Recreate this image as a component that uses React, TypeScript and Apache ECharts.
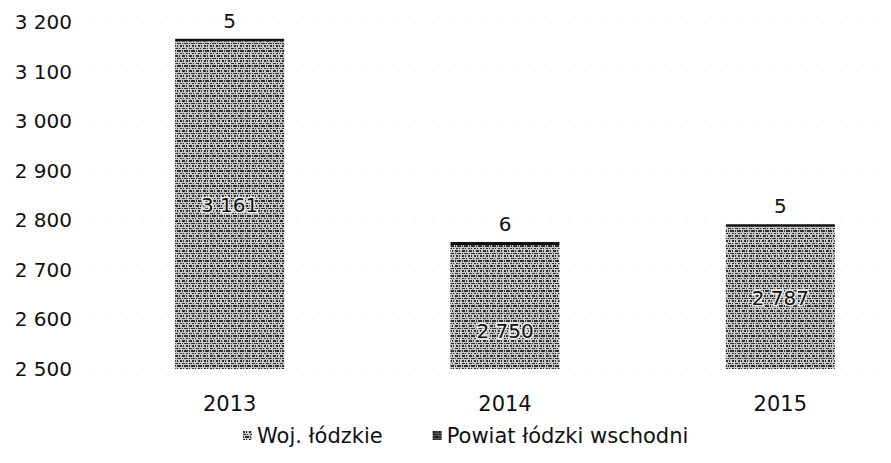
import React, { useEffect, useRef } from "react";
import * as echarts from "echarts";

const categories = ["2013", "2014", "2015"];
const wojValues = [3161, 2750, 2787];
const powiatValues = [5, 6, 5];
const yTicks = [2500, 2600, 2700, 2800, 2900, 3000, 3100, 3200];
const seriesNames = ["Woj. łódzkie", "Powiat łódzki wschodni"];

const FONT = "'DejaVu Sans', Verdana, sans-serif";
const fmt = (v: number) => String(v).replace(/\B(?=(\d{3})+(?!\d))/g, " ");

const decal = {
  symbol: "rect",
  symbolSize: 1,
  color: "rgba(10,10,10,0.8)",
  dashArrayX: [[3, 1, 1, 2], [1, 1, 4, 1], [2, 1, 1, 2]],
  dashArrayY: [2, 1, 1, 1],
  rotation: 0,
};

export default function App() {
  const ref = useRef<HTMLDivElement>(null);
  useEffect(() => {
    document.body.style.margin = "0";
    const chart = echarts.init(ref.current!, null, { renderer: "svg" });
    const labelOffsets: Record<number, number[]> = { 1: [0, 24] };
    chart.setOption({
      animation: false,
      backgroundColor: "#ffffff",
      textStyle: { fontFamily: FONT },
      grid: { left: 92, top: 22, bottom: 94, right: 0 },
      legend: {
        data: [
          { name: seriesNames[0], icon: "rect" },
          { name: seriesNames[1], icon: "rect", itemStyle: { color: "#555555", decal } },
        ],
        bottom: 12,
        left: 238,
        itemWidth: 9,
        itemHeight: 9,
        itemGap: 50,
        textStyle: { fontSize: 21, color: "#111", fontFamily: FONT },
      },
      xAxis: {
        type: "category",
        data: categories,
        axisLine: { show: false },
        axisTick: { show: false },
        axisLabel: { fontSize: 21, color: "#111", margin: 24, fontFamily: FONT },
      },
      yAxis: {
        type: "value",
        min: yTicks[0],
        max: yTicks[yTicks.length - 1],
        interval: 100,
        axisLine: { show: false },
        axisTick: { show: false },
        splitLine: { show: true, lineStyle: { color: "#e0e0e0", type: [1, 16], width: 1 } },
        axisLabel: {
          fontSize: 20,
          color: "#111",
          margin: 20,
          align: "right",
          fontFamily: FONT,
          formatter: (v: number) => fmt(v),
        },
      },
      series: [
        {
          name: seriesNames[0],
          type: "bar",
          stack: "total",
          barWidth: 109,
          itemStyle: { color: "#c8c8c8", decal },
          label: {
            show: true,
            position: "inside",
            fontSize: 20,
            color: "#111",
            fontFamily: FONT,
            textBorderColor: "rgba(255,255,255,0.85)",
            textBorderWidth: 3,
            formatter: (p: any) => fmt(p.value),
          },
          data: wojValues.map((v, i) =>
            labelOffsets[i] ? { value: v, label: { offset: labelOffsets[i] } } : v
          ),
        },
        {
          name: seriesNames[1],
          type: "bar",
          stack: "total",
          barWidth: 109,
          itemStyle: { color: "#111111" },
          label: {
            show: true,
            position: "top",
            distance: 8,
            fontSize: 20,
            color: "#111",
            fontFamily: FONT,
          },
          data: powiatValues,
        },
      ],
    });
    return () => chart.dispose();
  }, []);
  return (
    <div style={{ width: 891, height: 463, overflow: "hidden", position: "relative" }}>
      <div ref={ref} style={{ width: 918, height: 463 }} />
    </div>
  );
}
